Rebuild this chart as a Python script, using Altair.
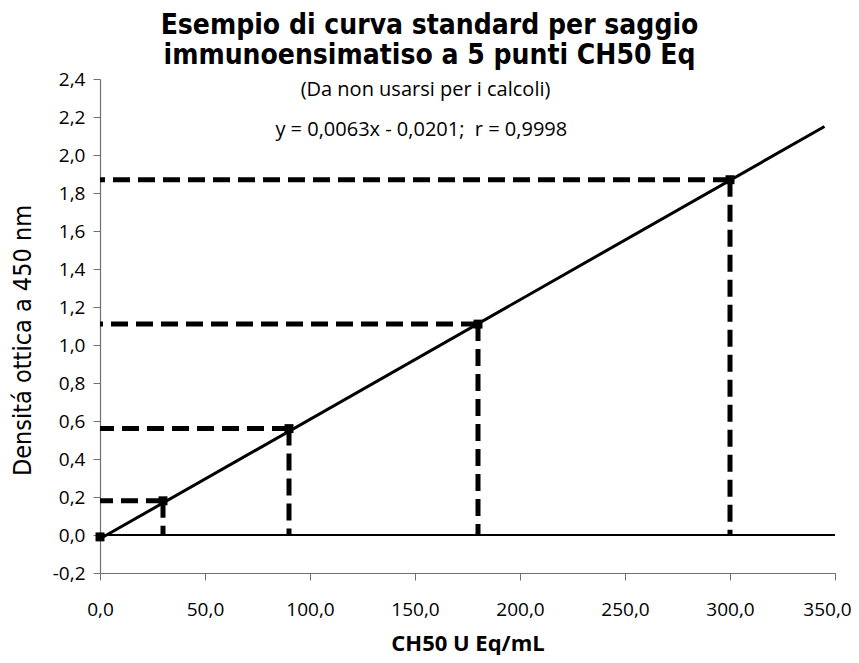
import altair as alt
import pandas as pd

# Standard curve points
conc = [0, 30, 90, 180, 300]
od = [-0.01, 0.18, 0.56, 1.11, 1.87]

# Regression line end points
line_x = [0, 345]
line_y = [-0.02, 2.15]

# Zero baseline
zero_x = [0, 350]

x_ticks = [0, 50, 100, 150, 200, 250, 300, 350]
y_ticks = [-0.2, 0.0, 0.2, 0.4, 0.6, 0.8, 1.0, 1.2, 1.4, 1.6, 1.8, 2.0, 2.2, 2.4]

notes = ["(Da non usarsi per i calcoli)", "y = 0,0063x - 0,0201;\u00a0 r = 0,9998"]
notes_x = [155, 153]
notes_y = [2.34, 2.13]

COND = "DejaVu Sans Condensed, Liberation Sans Narrow, sans-serif"
REG = "Open Sans, Noto Sans, sans-serif"

pts = pd.DataFrame({"x": conc, "y": od, "x0": [0] * len(conc), "y0": [0] * len(conc)})
pts_nz = pts[pts["x"] > 0]
line_df = pd.DataFrame({"x": line_x, "y": line_y})
zero_df = pd.DataFrame({"x": [zero_x[0]], "x2": [zero_x[1]], "y": [0]})
notes_df = pd.DataFrame({"t": notes, "x": notes_x, "y": notes_y})

lab = "replace(replace(format(datum.value, '.1f'), '.', ','), '\u2212', '-')"

xs = alt.Scale(domain=[0, 350], nice=False, zero=False)
ys = alt.Scale(domain=[-0.2, 2.4], nice=False, zero=False)

xaxis = alt.Axis(
    values=x_ticks, labelExpr=lab, title="CH50 U Eq/mL", grid=False,
    labelFont=REG, labelFontSize=19, labelColor="black", labelPadding=20,
    labelFlush=False,
    labelOffset={"condition": {"test": "datum.value == 350", "value": -8}, "value": 0},
    titleFont=REG, titleFontSize=22, titleFontWeight="bold", titleColor="black",
    titleY=77, titleBaseline="alphabetic",
    domainColor="#707070", tickColor="#707070", tickSize=7, domainWidth=1.2,
)
yaxis = alt.Axis(
    values=y_ticks, labelExpr=lab, title="Densitá ottica a 450 nm", grid=False,
    labelFont=REG, labelFontSize=19, labelColor="black", labelPadding=8,
    labelFlush=False,
    titleFont=COND, titleFontSize=25, titleFontWeight="normal", titleColor="black",
    titleX=-78, titleY=261, titleAngle=-90, titleAlign="center", titleBaseline="middle",
    domainColor="#707070", tickColor="#707070", tickSize=7, domainWidth=1.2,
)

base_x = alt.X("x:Q", scale=xs, axis=xaxis)
base_y = alt.Y("y:Q", scale=ys, axis=yaxis)

zero_rule = alt.Chart(zero_df).mark_rule(color="black", strokeWidth=2).encode(
    x=alt.X("x:Q", scale=xs, axis=xaxis), x2="x2:Q", y=alt.Y("y:Q", scale=ys, axis=yaxis)
)

# dashed guides start at the point and run to the axis / zero line
hdash = alt.Chart(pts_nz).mark_rule(color="black", strokeWidth=5, strokeDash=[17, 8]).encode(
    x=alt.X("x:Q", scale=xs, axis=xaxis), x2="x0:Q", y=alt.Y("y:Q", scale=ys, axis=yaxis)
)
vdash = alt.Chart(pts_nz).mark_rule(color="black", strokeWidth=5, strokeDash=[17, 8]).encode(
    x=alt.X("x:Q", scale=xs, axis=xaxis), y=alt.Y("y:Q", scale=ys, axis=yaxis), y2="y0:Q"
)

reg_line = alt.Chart(line_df).mark_line(color="black", strokeWidth=3).encode(x=base_x, y=base_y)

squares = alt.Chart(pts).mark_square(color="black", size=80, opacity=1).encode(x=base_x, y=base_y)

texts = alt.Chart(notes_df).mark_text(font=REG, fontSize=20, color="black", align="center", baseline="middle").encode(
    x=base_x, y=base_y, text="t:N"
)

chart = alt.layer(zero_rule, hdash, vdash, reg_line, squares, texts).properties(
    width=735,
    height=494,
    title=alt.TitleParams(
        text=["Esempio di curva standard per saggio", "immunoensimatiso a 5 punti CH50 Eq"],
        font=COND, fontSize=28, fontWeight="bold", color="black",
        anchor="middle", dx=-38, offset=0, lineHeight=30,
    ),
    autosize=alt.AutoSizeParams(type="none"),
    padding={"left": 92, "top": 71, "right": 16, "bottom": 82},
).configure_view(stroke=None)

chart.save("out.html", embed_options={"renderer": "svg", "actions": False})
